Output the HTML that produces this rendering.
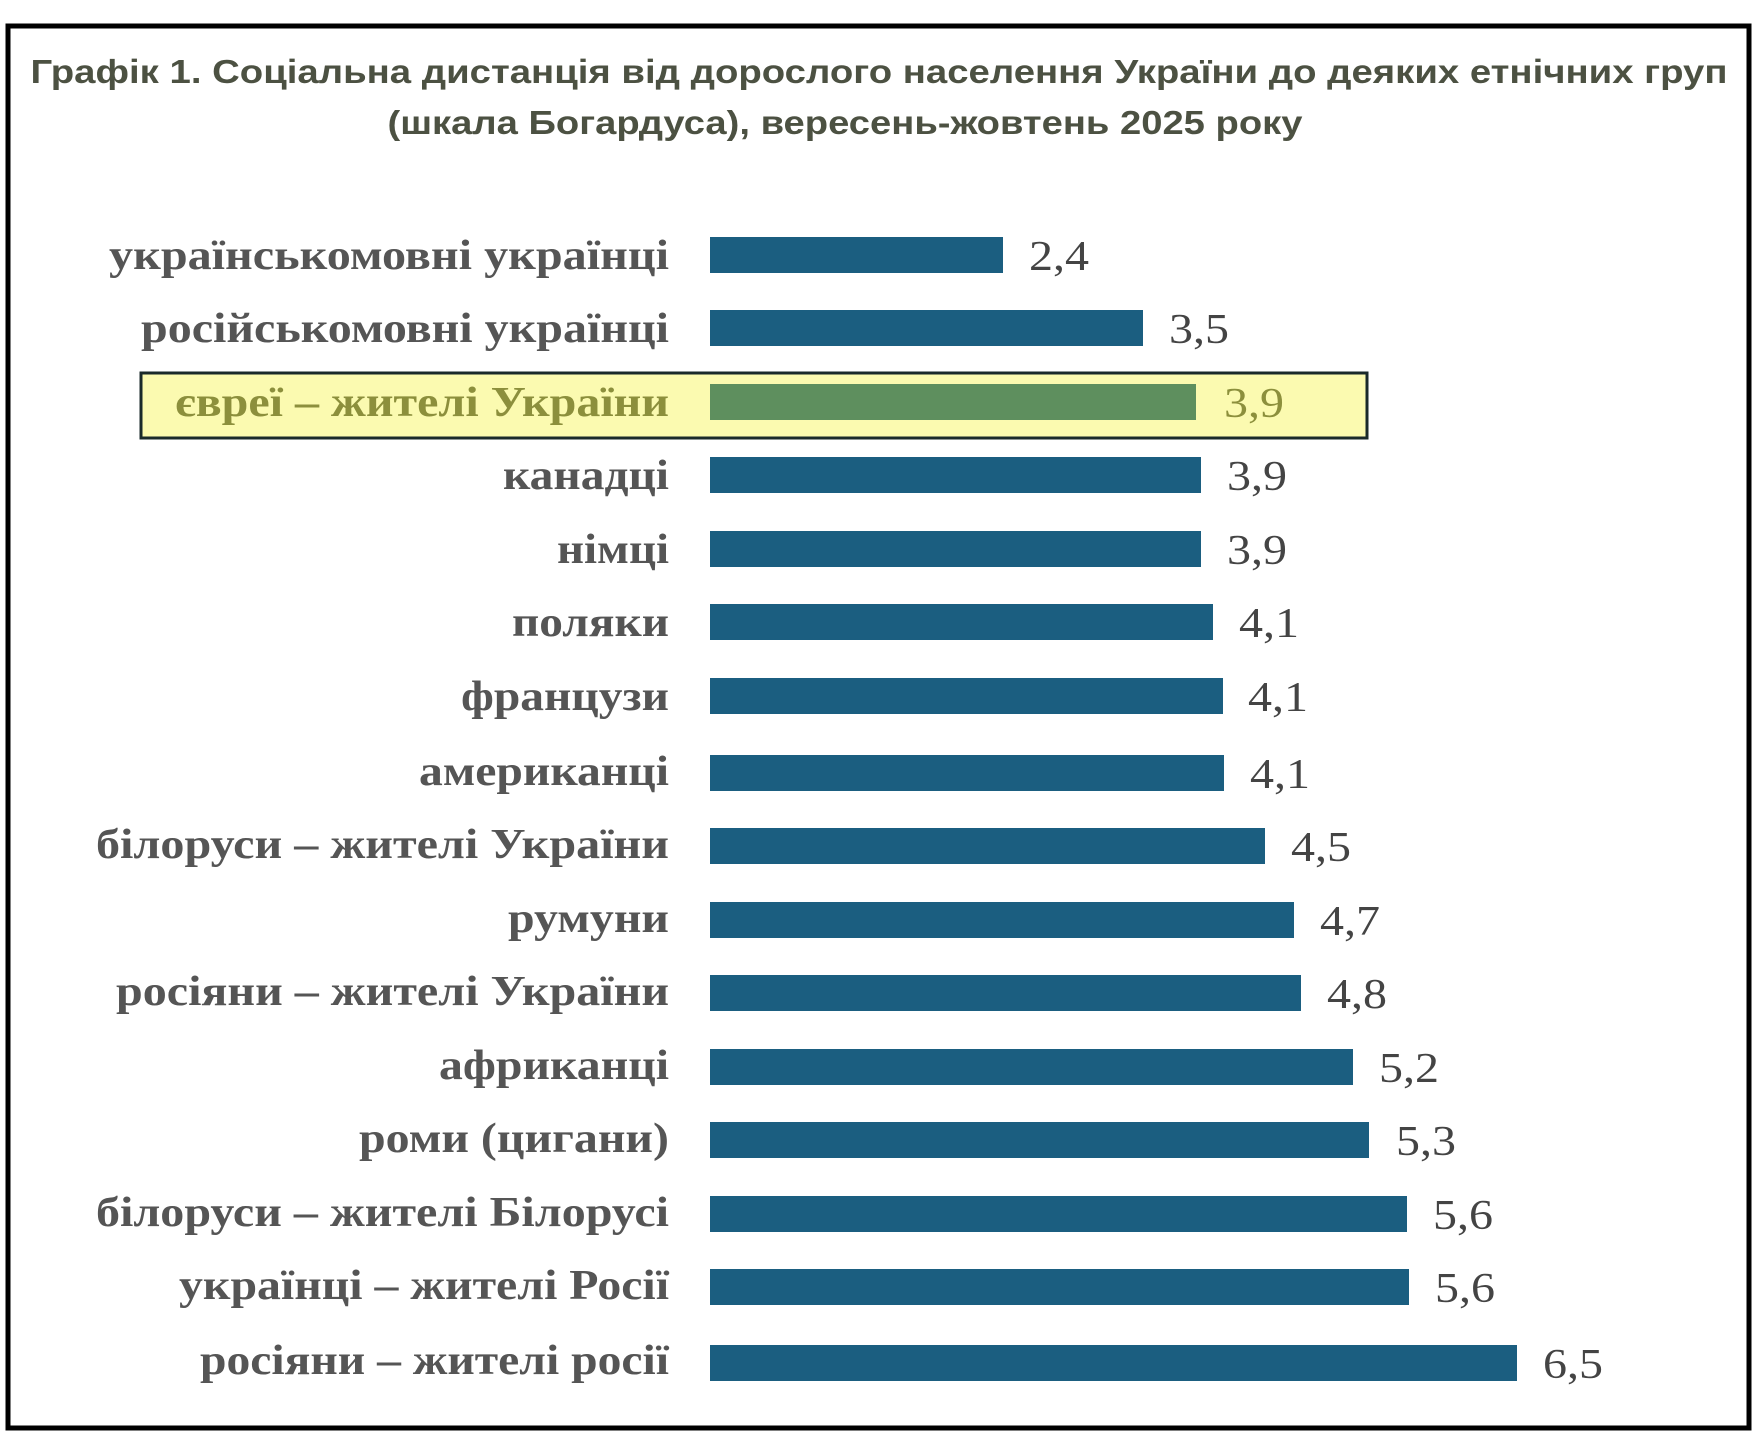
<!DOCTYPE html>
<html><head><meta charset="utf-8"><style>
html,body{margin:0;padding:0;background:#fff;width:1764px;height:1438px;overflow:hidden}
</style></head><body>
<svg width="1764" height="1438" xmlns="http://www.w3.org/2000/svg">
<rect x="0" y="0" width="1764" height="1438" fill="#fff"/>
<rect x="8" y="26" width="1741" height="1402" fill="none" stroke="#000" stroke-width="5"/>
<g font-family="Liberation Sans, sans-serif" font-weight="bold" font-size="33" fill="#4c5142" text-anchor="middle">
<text x="879" y="83" textLength="1697" lengthAdjust="spacingAndGlyphs">Графік 1. Соціальна дистанція від дорослого населення України до деяких етнічних груп</text>
<text x="845" y="134" textLength="915" lengthAdjust="spacingAndGlyphs">(шкала Богардуса), вересень-жовтень 2025 року</text>
</g>
<g transform="translate(-4,-2)">
<rect x="145" y="375" width="1226" height="65" fill="#fbfab0" stroke="#1a2a2a" stroke-width="3"/>
<g font-family="Liberation Serif, serif" font-weight="bold" font-size="42" fill="#555">
<text x="113" y="271" textLength="560" lengthAdjust="spacingAndGlyphs">українськомовні українці</text>
<text x="145" y="344" textLength="528" lengthAdjust="spacingAndGlyphs">російськомовні українці</text>
<text x="179" y="418" textLength="494" lengthAdjust="spacingAndGlyphs" fill="#8c8f3c">євреї – жителі України</text>
<text x="507" y="491" textLength="166" lengthAdjust="spacingAndGlyphs">канадці</text>
<text x="561" y="565" textLength="112" lengthAdjust="spacingAndGlyphs">німці</text>
<text x="516" y="638" textLength="157" lengthAdjust="spacingAndGlyphs">поляки</text>
<text x="465" y="712" textLength="208" lengthAdjust="spacingAndGlyphs">французи</text>
<text x="423" y="787" textLength="250" lengthAdjust="spacingAndGlyphs">американці</text>
<text x="100" y="860" textLength="573" lengthAdjust="spacingAndGlyphs">білоруси – жителі України</text>
<text x="512" y="934" textLength="161" lengthAdjust="spacingAndGlyphs">румуни</text>
<text x="120" y="1007" textLength="553" lengthAdjust="spacingAndGlyphs">росіяни – жителі України</text>
<text x="443" y="1081" textLength="230" lengthAdjust="spacingAndGlyphs">африканці</text>
<text x="363" y="1154" textLength="310" lengthAdjust="spacingAndGlyphs">роми (цигани)</text>
<text x="100" y="1228" textLength="573" lengthAdjust="spacingAndGlyphs">білоруси – жителі Білорусі</text>
<text x="183" y="1301" textLength="490" lengthAdjust="spacingAndGlyphs">українці – жителі Росії</text>
<text x="204" y="1376" textLength="469" lengthAdjust="spacingAndGlyphs">росіяни – жителі росії</text>
</g>
<g fill="#1b5e80">
<rect x="714" y="239" width="293" height="36"/>
<rect x="714" y="312" width="433" height="36"/>
<rect x="714" y="386" width="486" height="36" fill="#5e8f5e"/>
<rect x="714" y="459" width="491" height="36"/>
<rect x="714" y="533" width="491" height="36"/>
<rect x="714" y="606" width="503" height="36"/>
<rect x="714" y="680" width="513" height="36"/>
<rect x="714" y="757" width="514" height="36"/>
<rect x="714" y="830" width="555" height="36"/>
<rect x="714" y="904" width="584" height="36"/>
<rect x="714" y="977" width="591" height="36"/>
<rect x="714" y="1051" width="643" height="36"/>
<rect x="714" y="1124" width="659" height="36"/>
<rect x="714" y="1198" width="697" height="36"/>
<rect x="714" y="1271" width="699" height="36"/>
<rect x="714" y="1347" width="807" height="36"/>
</g>
<g font-family="Liberation Serif, serif" font-size="42" fill="#444">
<text x="1033" y="272" textLength="60" lengthAdjust="spacingAndGlyphs">2,4</text>
<text x="1173" y="345" textLength="60" lengthAdjust="spacingAndGlyphs">3,5</text>
<text x="1228" y="419" textLength="60" lengthAdjust="spacingAndGlyphs" fill="#8c8f3c">3,9</text>
<text x="1231" y="492" textLength="60" lengthAdjust="spacingAndGlyphs">3,9</text>
<text x="1231" y="566" textLength="60" lengthAdjust="spacingAndGlyphs">3,9</text>
<text x="1243" y="639" textLength="60" lengthAdjust="spacingAndGlyphs">4,1</text>
<text x="1252" y="713" textLength="60" lengthAdjust="spacingAndGlyphs">4,1</text>
<text x="1254" y="790" textLength="60" lengthAdjust="spacingAndGlyphs">4,1</text>
<text x="1295" y="863" textLength="60" lengthAdjust="spacingAndGlyphs">4,5</text>
<text x="1324" y="937" textLength="60" lengthAdjust="spacingAndGlyphs">4,7</text>
<text x="1331" y="1010" textLength="60" lengthAdjust="spacingAndGlyphs">4,8</text>
<text x="1383" y="1084" textLength="60" lengthAdjust="spacingAndGlyphs">5,2</text>
<text x="1400" y="1157" textLength="60" lengthAdjust="spacingAndGlyphs">5,3</text>
<text x="1437" y="1231" textLength="60" lengthAdjust="spacingAndGlyphs">5,6</text>
<text x="1439" y="1304" textLength="60" lengthAdjust="spacingAndGlyphs">5,6</text>
<text x="1547" y="1380" textLength="60" lengthAdjust="spacingAndGlyphs">6,5</text>
</g>
</g>
</svg>
</body></html>
